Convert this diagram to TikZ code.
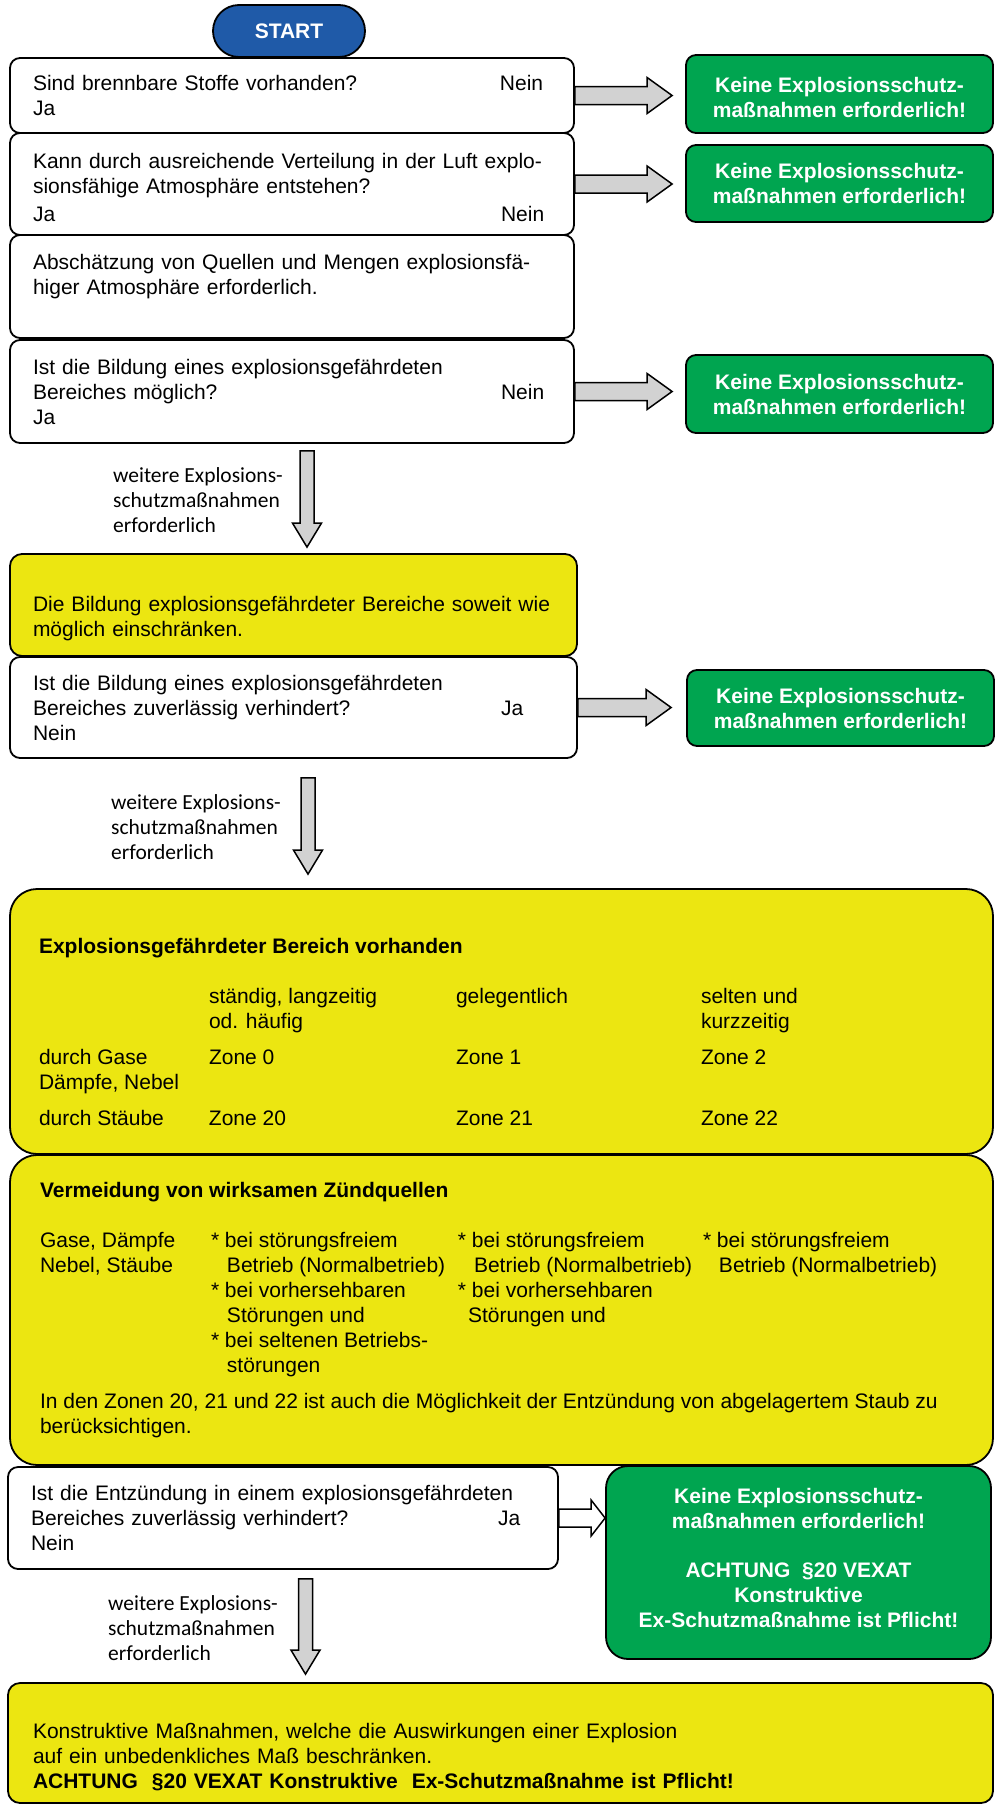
\documentclass[tikz,border=0pt]{standalone}
\usepackage{fontspec}
\setmainfont{Liberation Sans}
\newfontfamily\labelfont{Carlito}
\usetikzlibrary{calc}

\definecolor{startblue}{RGB}{31,90,168}
\definecolor{exgreen}{RGB}{0,165,80}
\definecolor{exyellow}{RGB}{236,230,17}
\definecolor{arrowgray}{RGB}{210,210,210}

\tikzset{
  box/.style={draw=black, line width=1.8pt, inner ysep=0pt},
  qbox/.style={box, fill=white, rounded corners=10pt, align=left, inner xsep=23pt},
  ybox/.style={box, fill=exyellow, rounded corners=12pt, align=left, inner xsep=23pt},
  zbox/.style={box, fill=exyellow, rounded corners=27pt, inner xsep=0pt, minimum width=983pt},
  gbox/.style={box, fill=exgreen, rounded corners=10pt, text=white, align=center,
    inner xsep=0pt, minimum width=307pt,
    font=\fontsize{21pt}{25pt}\selectfont\bfseries},
  startbox/.style={box, fill=startblue, rounded corners=26pt, text=white,
    minimum width=152pt, minimum height=52pt,
    font=\fontsize{21pt}{25pt}\selectfont\bfseries},
  lbl/.style={font=\labelfont\fontsize{21.5pt}{25pt}\selectfont, align=left,
    anchor=west, inner sep=0pt},
  rblock/.style={draw=black, line width=1.5pt, fill=arrowgray,
    to path={let \p1=(\tikztostart), \p2=(\tikztotarget) in
      (\x1,\y1+9pt) -- (\x2-#1,\y1+9pt) -- (\x2-#1,\y1+18pt) -- (\x2,\y1)
      -- (\x2-#1,\y1-18pt) -- (\x2-#1,\y1-9pt) -- (\x1,\y1-9pt) -- cycle}},
  rblock/.default=25pt,
  dblock/.style={draw=black, line width=1.5pt, fill=arrowgray,
    to path={let \p1=(\tikztostart), \p2=(\tikztotarget) in
      (\x1-7pt,\y1) -- (\x1-7pt,\y2+24pt) -- (\x1-14.5pt,\y2+24pt) -- (\x1,\y2)
      -- (\x1+14.5pt,\y2+24pt) -- (\x1+7pt,\y2+24pt) -- (\x1+7pt,\y1) -- cycle}},
}

\begin{document}
\begin{tikzpicture}[x=1pt, y=-1pt,
    every node/.style={font=\fontsize{21pt}{25pt}\selectfont}]
  \useasboundingbox (0,0) rectangle (995,1807);

  % Fragen
  \node[qbox, text width=518pt, minimum height=75pt] (q1) at (292,95.5)
    {Sind brennbare Stoffe vorhanden?\hfill\makebox[51pt][l]{Nein}\\Ja};
  \node[qbox, text width=518pt, minimum height=102pt] (q2) at (292,184)
    {\rule{0pt}{23pt}\mbox{Kann durch ausreichende Verteilung in der Luft explo-}\\sionsfähige Atmosphäre entstehen?\\[3pt]Ja\hfill\makebox[50pt][l]{Nein}};
  \node[qbox, text width=518pt, minimum height=103pt] (q3) at (292,286.5)
    {\rule{0pt}{23pt}\mbox{Abschätzung von Quellen und Mengen explosionsfä-}\\higer Atmosphäre erforderlich.\\\strut};
  \node[qbox, text width=518pt, minimum height=103pt] (q4) at (292,391.5)
    {Ist die Bildung eines explosionsgefährdeten\\Bereiches möglich?\hfill\makebox[50pt][l]{Nein}\\Ja};
  \node[ybox, text width=521pt, minimum height=102pt] (y1) at (293.5,605)
    {\strut\\\mbox{Die Bildung explosionsgefährdeter Bereiche soweit wie}\\möglich einschränken.};
  \node[qbox, text width=521pt, minimum height=101pt] (q5) at (293.5,707.5)
    {Ist die Bildung eines explosionsgefährdeten\\Bereiches zuverlässig verhindert?\hfill\makebox[53pt][l]{Ja}\\Nein};
  \node[qbox, text width=504pt, minimum height=102pt] (q6) at (283,1518)
    {Ist die Entzündung in einem explosionsgefährdeten\\Bereiches zuverlässig verhindert?\hfill\makebox[37pt][l]{Ja}\\Nein};

  \node[startbox] (start) at (289,31) {START};

  % Zonen
  \node[zbox, minimum height=265pt] (z1) at (501.5,1021.5) {%
    \begin{tabular}{@{}p{170pt}@{}p{247pt}@{}p{245pt}@{}p{263pt}@{}}
      \\
      \multicolumn{4}{@{}l@{}}{\textbf{Explosionsgefährdeter Bereich vorhanden}}\\
      \\
      & ständig, langzeitig\newline od. häufig & gelegentlich & selten und\newline kurzzeitig\\
      \noalign{\vskip 11pt}
      durch Gase\newline Dämpfe, Nebel & Zone 0 & Zone 1 & Zone 2\\
      \noalign{\vskip 11pt}
      durch Stäube & Zone 20 & Zone 21 & Zone 22
    \end{tabular}};
  \node[zbox, minimum height=310pt] (z2) at (501.5,1310) {%
    \begin{tabular}{@{}p{171pt}@{}p{247pt}@{}p{245pt}@{}p{260pt}@{}}
      \multicolumn{4}{@{}l@{}}{\textbf{Vermeidung von wirksamen Zündquellen}}\\
      \\
      Gase, Dämpfe\newline Nebel, Stäube
      & * bei störungsfreiem\newline\hspace*{16pt}Betrieb (Normalbetrieb)\newline
        * bei vorhersehbaren\newline\hspace*{16pt}Störungen und\newline
        * bei seltenen Betriebs-\newline\hspace*{16pt}störungen
      & * bei störungsfreiem\newline\hspace*{16pt}Betrieb (Normalbetrieb)\newline
        * bei vorhersehbaren\newline\hspace*{10pt}Störungen und
      & * bei störungsfreiem\newline\hspace*{16pt}Betrieb (Normalbetrieb)\\
      \noalign{\vskip 11pt}
      \multicolumn{4}{@{}p{923pt}@{}}{In den Zonen 20, 21 und 22 ist auch die Möglichkeit der Entzündung von abgelagertem Staub zu\newline berücksichtigen.}
    \end{tabular}};

  \node[ybox, inner xsep=25pt, text width=935pt, minimum height=120pt] (b) at (500.5,1743)
    {\strut\\Konstruktive Maßnahmen, welche die Auswirkungen einer Explosion\\auf ein unbedenkliches Maß beschränken.\\\textbf{ACHTUNG\ \ §20 VEXAT Konstruktive\ \ Ex-Schutzmaßnahme ist Pflicht!}};

  % Ergebnisse
  \node[gbox, minimum height=78pt] (g1) at (839.5,94) {\rule{0pt}{22pt}Keine Explosionsschutz-\\maßnahmen erforderlich!};
  \node[gbox, minimum height=77pt] (g2) at (839.5,183.5) {Keine Explosionsschutz-\\maßnahmen erforderlich!};
  \node[gbox, minimum height=78pt] (g3) at (839.5,394) {Keine Explosionsschutz-\\maßnahmen erforderlich!};
  \node[gbox, minimum height=76pt] (g4) at (840.5,708) {Keine Explosionsschutz-\\maßnahmen erforderlich!};
  \node[gbox, rounded corners=22pt, minimum width=385pt, minimum height=193pt] (g5) at (798.5,1562.5)
    {Keine Explosionsschutz-\\maßnahmen erforderlich!\\[24pt]ACHTUNG\ \ §20 VEXAT\\Konstruktive\\Ex-Schutzmaßnahme ist Pflicht!\rule[-9pt]{0pt}{0pt}};

  % Pfeile
  \draw[rblock] (q1.east) to ([xshift=-13pt]g1.west);
  \draw[rblock] (q2.east) to ([xshift=-13pt]g2.west);
  \draw[rblock] (q4.east) to ([xshift=-13pt]g3.west);
  \draw[rblock] (q5.east) to ([xshift=-15pt]g4.west);
  \draw[rblock=14pt, fill=white] (q6.east) to (g5.west);
  \draw[dblock] ([xshift=15pt,yshift=-7pt]q4.south) to ([yshift=6pt]y1.north);
  \draw[dblock] ([xshift=14.5pt,yshift=-19pt]q5.south) to ([yshift=14pt]z1.north);
  \draw[dblock] ([xshift=22.5pt,yshift=-9pt]q6.south) to ([yshift=8pt]b.north);

  \node[lbl] (l1) at (113,500) {weitere Explosions-\\schutzmaßnahmen\\erforderlich};
  \node[lbl] (l2) at (111,827) {weitere Explosions-\\schutzmaßnahmen\\erforderlich};
  \node[lbl] (l3) at (108,1628) {weitere Explosions-\\schutzmaßnahmen\\erforderlich};
\end{tikzpicture}
\end{document}
